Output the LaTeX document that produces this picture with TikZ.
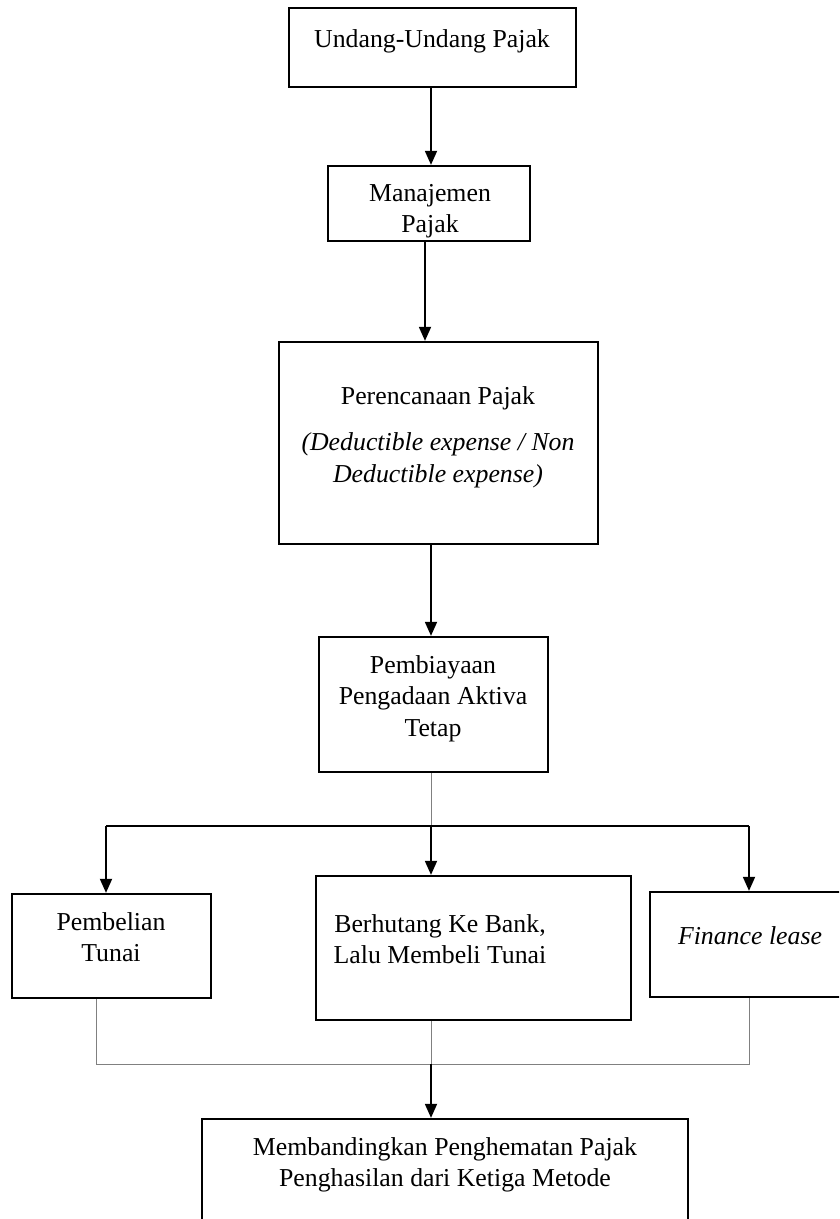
\documentclass[tikz,border=0pt]{standalone}
\usepackage{fontspec}
\setmainfont{Liberation Serif}
\usetikzlibrary{arrows.meta}
\tikzset{
  box/.style={draw=black, line width=2.3pt, rectangle, inner sep=0pt, fill=white},
  txt/.style={inner sep=0pt, anchor=base, font=\fontsize{25.8}{31.5}\selectfont},
  arr/.style={draw=black, line width=1.8pt, -{Triangle[width=12pt,length=14pt]}},
  thick line/.style={draw=black, line width=1.8pt},
  thin line/.style={draw=black!50, line width=1pt},
}
\newcommand{\mylines}[1]{\setlength{\tabcolsep}{0pt}\begin{tabular}[t]{c}#1\end{tabular}}
\begin{document}
\begin{tikzpicture}[x=1pt,y=-1pt]
\useasboundingbox (0,0) rectangle (839,1219);
\clip (0,0) rectangle (839,1219);
\fill[white] (0,0) rectangle (839,1219);

% boxes
\node[box, minimum width=287pt, minimum height=79pt] (b1) at (432.5,47.5) {};
\node[box, minimum width=202pt, minimum height=75pt] (b2) at (429,203.5) {};
\node[box, minimum width=319pt, minimum height=202pt] (b3) at (438.5,443) {};
\node[box, minimum width=229pt, minimum height=135pt] (b4) at (433.5,704.5) {};
\node[box, minimum width=199pt, minimum height=104pt] (b5) at (111.5,946) {};
\node[box, minimum width=315pt, minimum height=144pt] (b6) at (473.5,948) {};
\node[box, minimum width=200pt, minimum height=105pt] (b7) at (750,944.5) {};
\node[box, minimum width=486pt, minimum height=141pt] (b8) at (445,1189.5) {};

% texts
\node[txt] (t1) at (432,47) {Undang-Undang Pajak};
\node[txt] (t2) at (430,201) {\mylines{Manajemen\\Pajak}};
\node[txt] (t3) at (438,404) {\mylines{Perencanaan Pajak\\[15pt]\textit{(Deductible expense / Non}\\\textit{Deductible expense)}}};
\node[txt] (t4) at (433,673) {\mylines{Pembiayaan\\Pengadaan Aktiva\\Tetap}};
\node[txt] (t5) at (111,930) {\mylines{Pembelian\\Tunai}};
\node[txt] (t6) at (440,932) {\mylines{Berhutang Ke Bank,\\Lalu Membeli Tunai}};
\node[txt] (t7) at (750,944) {\textit{Finance lease}};
\node[txt] (t8) at (445,1155) {\mylines{Membandingkan Penghematan Pajak\\Penghasilan dari Ketiga Metode}};

% junction coordinates
\coordinate (jl) at (106,826);
\coordinate (jm) at (431,826);
\coordinate (jr) at (749,826);
\coordinate (kl) at (96,1064);
\coordinate (km) at (431,1064);
\coordinate (kr) at (749,1064);

% vertical chain
\draw[arr] ([xshift=-1.5pt]b1.south) -- ([xshift=-1.5pt]b1.south |- b2.north);
\draw[arr] ([xshift=-4pt]b2.south) -- ([xshift=-4pt]b2.south |- b3.north);
\draw[arr] ([xshift=-2.5pt]b4.north |- b3.south) -- ([xshift=-2.5pt]b4.north);

% split
\draw[thin line] ([xshift=-2pt]b4.south) -- ([xshift=-2pt]b4.south |- jm);
\draw[thick line] (jl) -- (jr);
\draw[arr] (jl) -- (jl |- b5.north);
\draw[arr] (jm) -- (jm |- b6.north);
\draw[arr] (jr) -- (jr |- b7.north);

% merge
\draw[thin line] (kl |- b5.south) -- (kl) -- (kr) -- (kr |- b7.south);
\draw[thin line] (km |- b6.south) -- (km);
\draw[arr] (km) -- (km |- b8.north);
\end{tikzpicture}
\end{document}
